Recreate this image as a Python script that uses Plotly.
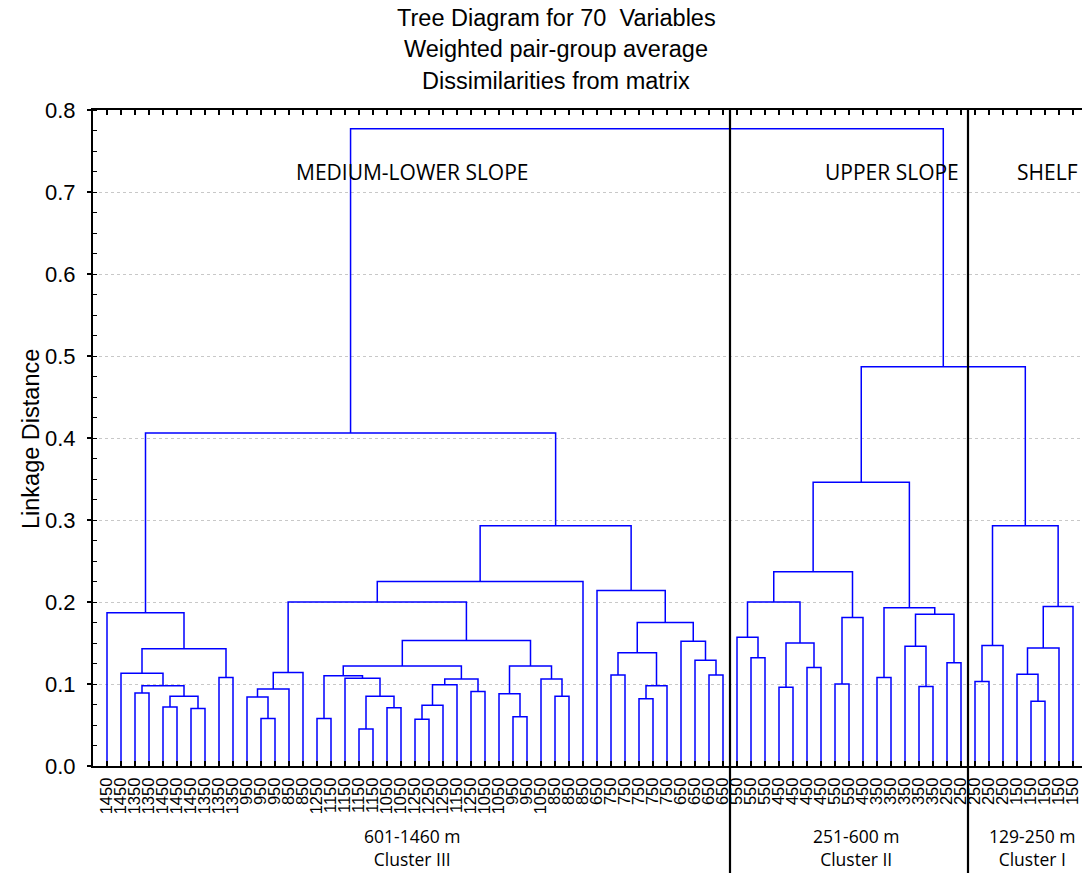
import plotly.graph_objects as go

# ---------------- data ----------------
leaf_labels = [
    "1450", "1450", "1350", "1350", "1450", "1450", "1450", "1350", "1350", "1350",
    "950", "950", "950", "850", "850", "1250", "1150", "1150", "1150", "1150",
    "1050", "1050", "1250", "1250", "1250", "1150", "1250", "1050", "1050", "950",
    "950", "1050", "850", "850", "850", "650", "750", "750", "750", "750",
    "750", "650", "650", "650", "650", "550", "550", "550", "450", "450",
    "450", "450", "550", "550", "450", "350", "350", "350", "350", "350",
    "250", "250", "250", "250", "250", "150", "150", "150", "150", "150",
]

# merge k creates node 70+k joining merge_a[k] and merge_b[k] at linkage distance merge_h[k]
merge_a = [2, 4, 6, 71, 70, 1, 8, 75, 0,
           11, 10, 80, 81,
           15, 18, 20, 84, 17, 83,
           22, 89, 90, 26, 91, 88,
           29, 28, 32, 31, 96, 94, 82, 101,
           36, 38, 104, 103, 43, 42, 41, 106, 35, 102, 78,
           46, 45, 48, 50, 116, 115, 52, 120, 119, 55, 58, 57, 60, 125, 123, 122,
           62, 130, 66, 65, 133, 134, 131, 129, 113]
merge_b = [3, 5, 7, 72, 73, 74, 9, 76, 77,
           12, 79, 13, 14,
           16, 19, 21, 85, 86, 87,
           23, 24, 25, 27, 92, 93,
           30, 95, 33, 97, 98, 99, 100, 34,
           37, 39, 40, 105, 44, 107, 108, 109, 110, 111, 112,
           47, 114, 49, 51, 117, 118, 53, 54, 121, 56, 59, 124, 61, 126, 127, 128,
           63, 64, 67, 132, 68, 69, 135, 136, 137]
merge_h = [0.089, 0.072, 0.070, 0.085, 0.098, 0.113, 0.108, 0.143, 0.187,
           0.058, 0.084, 0.094, 0.114,
           0.058, 0.045, 0.071, 0.085, 0.107, 0.110,
           0.057, 0.074, 0.099, 0.091, 0.106, 0.122,
           0.060, 0.088, 0.085, 0.106, 0.122, 0.153, 0.200, 0.225,
           0.111, 0.082, 0.098, 0.138, 0.111, 0.129, 0.152, 0.175, 0.214, 0.293, 0.406,
           0.132, 0.157, 0.096, 0.120, 0.150, 0.200, 0.100, 0.181, 0.237, 0.108, 0.097,
           0.146, 0.126, 0.185, 0.193, 0.346,
           0.103, 0.147, 0.079, 0.112, 0.144, 0.1945, 0.293, 0.487, 0.777]

region_names = ["MEDIUM-LOWER SLOPE", "UPPER SLOPE", "SHELF"]
depth_ranges = ["601-1460 m", "251-600 m", "129-250 m"]
cluster_names = ["Cluster III", "Cluster II", "Cluster I"]
cluster_sizes = [45, 17, 8]  # leaves per cluster, left to right

# ---------------- build dendrogram segments ----------------
n = len(leaf_labels)
pos = {i: i + 1 for i in range(n)}
hgt = {i: 0.0 for i in range(n)}
xs, ys = [], []
for k, (a, b, h) in enumerate(zip(merge_a, merge_b, merge_h)):
    node = n + k
    xa, xb = pos[a], pos[b]
    xs += [xa, xa, xb, xb, None]
    ys += [hgt[a], h, h, hgt[b], None]
    pos[node] = (xa + xb) / 2
    hgt[node] = h

fig = go.Figure()
fig.add_trace(go.Scatter(x=xs, y=ys, mode="lines",
                         line=dict(color="#0000ff", width=1.5),
                         hoverinfo="skip", showlegend=False))

# cluster boundaries
bounds = [0.5]
for s in cluster_sizes:
    bounds.append(bounds[-1] + s)

W, H = 1082, 873
L, R, T, B = 93, 0, 110, 107
pw = W - L - R
ph = H - T - B
step = 14.0
xmax = pw / step


def px_x(x):
    return (x - L) / step


def py(y):
    return (H - B - y) / ph


shapes = []
for bx in bounds[1:3]:
    shapes.append(dict(type="line", xref="x", yref="paper", x0=bx, x1=bx,
                       y0=py(H + 5), y1=1.0, line=dict(color="black", width=2.2)))

annotations = []
title_lines = ["Tree Diagram for 70  Variables", "Weighted pair-group average",
               "Dissimilarities from matrix"]
for i, t in enumerate(title_lines):
    annotations.append(dict(text=t, xref="paper", yref="paper", x=(556 - L) / pw,
                            y=py(18 + 31.5 * i), xanchor="center", yanchor="middle",
                            showarrow=False,
                            font=dict(family="Liberation Sans, Arial", size=23.5, color="black")))
annotations.append(dict(text="Linkage Distance", xref="paper", yref="paper",
                        x=(31 - L) / pw, y=py(439), textangle=-90, xanchor="center",
                        yanchor="middle", showarrow=False,
                        font=dict(family="Liberation Sans, Arial", size=23.5, color="black")))

region_x = [px_x(412), px_x(892), px_x(1047)]
for i in range(3):
    annotations.append(dict(text=region_names[i], xref="x", yref="paper", x=region_x[i],
                            y=py(172), xanchor="center", yanchor="middle", showarrow=False,
                            font=dict(family="Open Sans", size=21, color="black")))
bottom_x = [px_x(412), px_x(856), px_x(1032)]
for i in range(3):
    annotations.append(dict(text=depth_ranges[i] + "<br>" + cluster_names[i],
                            xref="x", yref="paper", x=bottom_x[i],
                            y=py(847.5), xanchor="center", yanchor="middle",
                            align="center", showarrow=False,
                            font=dict(family="Open Sans", size=17.5, color="black")))

fig.update_layout(
    width=W, height=H,
    margin=dict(l=L, r=R, t=T, b=B, pad=0),
    paper_bgcolor="white", plot_bgcolor="white",
    shapes=shapes, annotations=annotations,
    xaxis=dict(range=[0, xmax], tickvals=list(range(1, n + 1)), ticktext=leaf_labels,
               tickangle=-90, tickfont=dict(family="Liberation Sans, Arial", size=16.5, color="black"),
               ticks="inside", ticklen=5, tickwidth=1.5, tickcolor="black",
               showline=True, linecolor="black", linewidth=2, mirror="ticks",
               showgrid=False, zeroline=False, fixedrange=True, ticklabelstandoff=3,
               automargin=False),
    yaxis=dict(range=[0, 0.8], dtick=0.1, tickformat=".1f",
               tickfont=dict(family="Liberation Sans, Arial", size=22, color="black"),
               ticks="outside", ticklen=4, tickcolor="black", tickwidth=1.5,
               minor=dict(ticks="inside", ticklen=4, dtick=0.025, tickcolor="black",
                          tickwidth=1.2, showgrid=False),
               showgrid=True, gridcolor="#c8c8c8", griddash="dot", gridwidth=1,
               showline=True, linecolor="black", linewidth=2, zeroline=False,
               ticklabelstandoff=7, fixedrange=True, automargin=False),
)

fig.write_html(
    "out.html",
    config={"displayModeBar": False},
    post_script="document.body.style.margin='0';document.body.style.overflow='hidden';",
)
